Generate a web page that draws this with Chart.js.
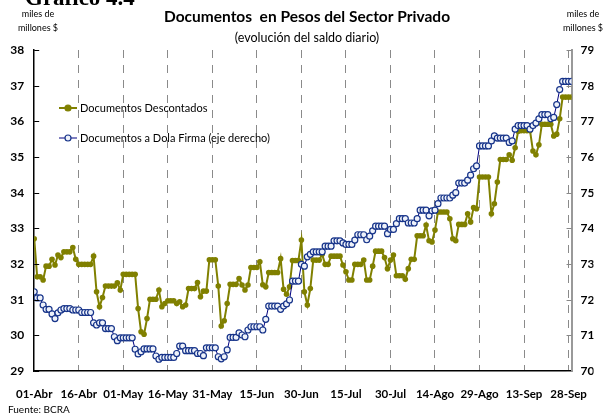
<!DOCTYPE html>
<html><head><meta charset="utf-8">
<script src="https://cdn.jsdelivr.net/npm/chart.js@4/dist/chart.umd.min.js"></script>
<style>html,body{margin:0;padding:0;background:#fff;overflow:hidden}canvas{display:block}</style>
</head><body>
<canvas id="c" width="603" height="416"></canvas>
<script>
// Day index 0 = 01-Abr
const tickDays = [0,15,30,45,60,75,90,105,120,135,150,165,180];
const tickLabels = ['01-Abr','16-Abr','01-May','16-May','31-May','15-Jun','30-Jun','15-Jul','30-Jul','14-Ago','29-Ago','13-Sep','28-Sep'];
const leftTicks = [29,30,31,32,33,34,35,36,37,38];
const rightTicks = [70,71,72,73,74,75,76,77,78,79];

// Documentos Descontados (eje izquierdo, miles de millones $)
const descontados = [
32.71,31.64,31.64,31.55,31.94,31.94,32.13,31.97,32.25,32.18,
32.34,32.34,32.34,32.46,32.13,31.99,31.99,31.99,31.99,31.99,
32.22,31.22,30.80,31.06,31.38,31.38,31.38,31.38,31.47,31.27,
31.71,31.71,31.71,31.71,31.71,30.75,30.10,30.03,30.47,31.01,
31.01,31.01,31.27,30.80,30.89,30.97,30.97,30.97,30.89,30.94,
30.80,30.85,31.31,31.31,31.31,31.48,31.08,31.24,31.24,32.12,
32.12,32.12,31.38,30.26,30.41,30.89,31.43,31.43,31.43,31.59,
31.41,31.27,31.41,31.90,31.90,31.90,32.06,31.42,31.36,31.76,
31.76,31.76,31.76,32.15,31.29,31.15,31.36,32.10,32.10,32.10,
32.67,31.22,30.85,31.31,32.11,32.11,32.11,32.27,31.99,31.99,
32.22,32.22,32.22,32.22,31.97,31.78,31.55,31.55,31.99,31.99,
31.99,32.11,31.55,31.55,31.94,32.36,32.36,32.36,32.18,31.87,
32.11,32.25,31.67,31.67,31.67,31.57,31.87,32.13,32.13,32.79,
32.79,32.79,33.09,32.65,32.62,32.95,33.46,33.46,33.46,33.46,
33.27,32.71,32.65,33.11,33.11,33.11,33.41,33.18,33.58,33.55,
34.44,34.44,34.44,34.44,33.41,33.69,34.30,34.93,34.93,34.93,
35.06,34.91,35.26,35.72,35.74,35.74,35.74,35.74,35.17,35.06,
35.34,35.92,35.92,35.92,35.92,35.59,35.64,36.07,36.68,36.68,
36.68,36.68];

// Documentos a Dola Firma (eje derecho)
const dolaFirma = [
72.22,72.05,72.05,71.85,71.73,71.73,71.60,71.47,71.63,71.71,
71.75,71.75,71.75,71.71,71.71,71.71,71.64,71.64,71.64,71.64,
71.35,71.29,71.35,71.35,71.19,71.19,71.19,70.96,70.85,70.93,
70.93,70.93,70.93,70.93,70.61,70.48,70.54,70.62,70.62,70.62,
70.62,70.42,70.33,70.38,70.38,70.38,70.38,70.38,70.49,70.70,
70.70,70.57,70.57,70.57,70.57,70.49,70.49,70.43,70.65,70.65,
70.65,70.65,70.40,70.34,70.40,70.59,70.94,70.94,70.94,71.07,
71.01,70.96,71.15,71.24,71.24,71.24,71.24,71.15,71.45,71.82,
71.82,71.82,71.82,71.73,71.82,71.88,71.99,72.52,72.52,72.52,
72.99,72.94,73.20,73.27,73.34,73.34,73.34,73.34,73.50,73.50,
73.50,73.65,73.65,73.65,73.59,73.55,73.55,73.55,73.67,73.82,
73.82,73.82,73.68,73.78,73.93,74.06,74.06,74.06,74.06,73.85,
73.97,73.97,74.13,74.27,74.27,74.27,74.15,74.15,74.15,74.27,
74.51,74.51,74.51,74.35,74.49,74.51,74.69,74.85,74.85,74.85,
74.85,74.93,75.00,75.27,75.27,75.27,75.35,75.49,75.67,75.75,
76.31,76.31,76.31,76.31,76.45,76.59,76.53,76.53,76.53,76.53,
76.41,76.45,76.78,76.88,76.88,76.88,76.88,76.78,76.88,76.95,
77.07,77.19,77.19,77.19,77.07,77.11,77.47,77.89,78.12,78.12,
78.12,78.12];

const OLIVE = '#808000';
const NAVY = '#000080';
const RING = '#17348a';
const FONT = 'Lato, "DejaVu Sans", sans-serif';

const extras = {
  id: 'extras',
  afterDraw(chart) {
    const ctx = chart.ctx;
    const yL = chart.scales.y, yR = chart.scales.y2;
    ctx.save();
    // inward tick marks
    ctx.strokeStyle = '#000'; ctx.lineWidth = 1;
    ctx.beginPath();
    leftTicks.forEach(v => { const p = Math.round(yL.getPixelForValue(v)) + 0.5; ctx.moveTo(yL.right, p); ctx.lineTo(yL.right + 5, p); });
    ctx.stroke();
    ctx.strokeStyle = '#888';
    ctx.beginPath();
    rightTicks.forEach(v => { const p = Math.round(yR.getPixelForValue(v)) + 0.5; ctx.moveTo(yR.left - 5, p); ctx.lineTo(yR.left, p); });
    ctx.stroke();

    ctx.fillStyle = '#000';
    // Gráfico header (cut at top)
    ctx.textAlign = 'left'; ctx.textBaseline = 'alphabetic';
    ctx.font = 'bold 23px "Liberation Serif", serif';
    ctx.fillText('Gráfico 4.4', 25, 5);
    // titles
    ctx.textAlign = 'center'; ctx.textBaseline = 'middle';
    ctx.font = 'bold 15.5px ' + FONT;
    ctx.fillText('Documentos  en Pesos del Sector Privado', 307, 17);
    ctx.font = '12.5px ' + FONT;
    ctx.fillText('(evolución del saldo diario)', 307, 38);
    // axis units
    ctx.font = '9px ' + FONT;
    ctx.fillText('miles de', 38, 14);
    ctx.fillText('millones $', 38, 28);
    ctx.fillText('miles de', 583, 14);
    ctx.fillText('millones $', 583, 28);
    // source
    ctx.textAlign = 'left';
    ctx.font = '10px ' + FONT;
    ctx.fillText('Fuente: BCRA', 8, 410);
    // legend
    const items = [
      {label: chart.data.datasets[1].label, color: OLIVE, fill: OLIVE, ring: OLIVE, y: 108, w: 2},
      {label: chart.data.datasets[0].label, color: NAVY, fill: '#eef2fa', ring: RING, y: 138, w: 1}
    ];
    items.forEach(it => {
      ctx.strokeStyle = it.color; ctx.lineWidth = it.w;
      ctx.beginPath(); ctx.moveTo(59, it.y); ctx.lineTo(77, it.y); ctx.stroke();
      ctx.beginPath(); ctx.arc(68, it.y, 3, 0, Math.PI * 2);
      ctx.fillStyle = it.fill; ctx.fill();
      ctx.lineWidth = 1.2; ctx.strokeStyle = it.ring; ctx.stroke();
      ctx.fillStyle = '#000';
      ctx.font = '11px ' + FONT; ctx.textAlign = 'left'; ctx.textBaseline = 'middle';
      ctx.fillText(it.label, 80, it.y);
    });
    ctx.restore();
  }
};

new Chart(document.getElementById('c'), {
  type: 'line',
  data: {
    datasets: [
      {
        label: 'Documentos a Dola Firma (eje derecho)',
        data: dolaFirma.map((v, i) => ({x: i, y: v})),
        yAxisID: 'y2',
        borderColor: NAVY, borderWidth: 1,
        pointRadius: 3, pointBorderWidth: 1.2,
        pointBackgroundColor: '#eef2fa', pointBorderColor: RING,
        tension: 0, order: 1
      },
      {
        label: 'Documentos Descontados',
        data: descontados.map((v, i) => ({x: i, y: v})),
        yAxisID: 'y',
        borderColor: OLIVE, borderWidth: 2,
        pointRadius: 2.8, pointBorderWidth: 0,
        pointBackgroundColor: OLIVE, pointBorderColor: OLIVE,
        tension: 0, order: 2
      }
    ]
  },
  options: {
    responsive: false, animation: false, devicePixelRatio: 1,
    layout: {padding: {top: 50, left: 0, right: 0, bottom: 0}},
    plugins: {legend: {display: false}, tooltip: {enabled: false}, title: {display: false}},
    scales: {
      x: {
        type: 'linear', min: 0, max: 181,
        afterBuildTicks: s => { s.ticks = tickDays.map(v => ({value: v})); },
        afterFit: s => { s.height = 45; },
        ticks: {
          autoSkip: false, maxRotation: 0, padding: 16, color: '#000',
          font: {family: FONT, size: 11.5, weight: 'bold'},
          callback: v => tickLabels[tickDays.indexOf(v)]
        },
        grid: {drawTicks: false, lineWidth: 1, color: c => (c.tick && c.tick.value === 0) ? 'rgba(0,0,0,0)' : '#8a8a8a'},
        border: {color: '#000', width: 1.5, dash: [8, 7]}
      },
      y: {
        position: 'left', min: 29, max: 38,
        afterFit: s => { s.width = 33; },
        ticks: {stepSize: 1, padding: 10, color: '#000', font: {family: FONT, size: 12, weight: 'bold'}},
        grid: {display: false, drawTicks: false},
        border: {color: '#000', width: 1.5}
      },
      y2: {
        position: 'right', min: 70, max: 79,
        afterFit: s => { s.width = 22; },
        ticks: {stepSize: 1, padding: 9, color: '#000', font: {family: FONT, size: 12, weight: 'bold'}},
        grid: {display: false, drawTicks: false},
        border: {color: '#999', width: 2}
      }
    }
  },
  plugins: [extras]
});
</script>
</body></html>
